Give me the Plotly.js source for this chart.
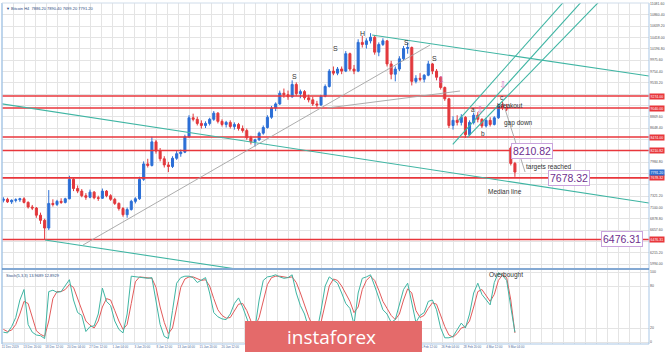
<!DOCTYPE html>
<html><head><meta charset="utf-8">
<script src="https://cdn.plot.ly/plotly-3.0.1.min.js"></script>
<style>html,body{margin:0;padding:0;background:#fff;}#chart{width:665px;height:352px;}</style>
</head><body><div id="chart"></div>
<script>
// ---- data (12-hour aggregated candles) ----
const openP = [7240,7260,7210,7240,7250,7270,7200,7110,7090,6950,6850,6700,7180,7160,7220,7200,7270,7650,7470,7420,7330,7300,7400,7290,7280,7420,7330,7260,7180,7080,6960,7060,7220,7270,7650,7950,7920,8380,8200,8050,7930,7900,8060,8150,8180,8480,8850,8820,8740,8700,8740,8820,8940,8780,8720,8760,8680,8720,8640,8600,8460,8380,8420,8550,8660,8860,9040,9120,9330,9300,9260,9500,9320,9360,9240,9200,9120,9100,9270,9460,9760,9720,9800,9760,10100,9800,9760,10320,10280,10350,10420,10130,10280,10350,9900,9700,9800,10000,10200,10220,9560,9620,9600,9680,9900,9760,9640,9440,9220,8700,8800,8760,8860,8520,8760,8900,8820,8690,8800,8720,8850,9080,9050,8260,7960];
const highP = [7300,7290,7260,7280,7290,7300,7220,7150,7110,7000,6880,7440,7260,7250,7280,7290,7720,7680,7530,7460,7380,7450,7420,7330,7470,7440,7360,7290,7200,7110,7100,7250,7300,7700,8000,8050,8480,8420,8260,8100,7990,8100,8200,8230,8520,8900,8930,8870,8800,8780,8850,8980,8960,8820,8790,8800,8760,8750,8700,8640,8500,8440,8580,8700,8900,9080,9150,9380,9420,9380,9580,9540,9400,9390,9300,9260,9180,9300,9500,9800,9850,9840,9850,10150,10120,9880,10380,10450,10400,10500,10460,10320,10400,10360,9960,9850,10050,10250,10310,10240,9680,9720,9700,9960,9920,9800,9660,9460,9240,8880,8900,8920,8880,8800,8950,8960,8840,8850,8860,8880,9120,9170,9120,8290,7990];
const lowP = [7200,7190,7170,7200,7210,7180,7080,7050,6900,6780,6480,6660,7120,7130,7170,7180,7260,7420,7380,7300,7250,7280,7260,7230,7270,7300,7230,7150,7040,6920,6900,7040,7180,7250,7620,7880,7900,8150,8000,7880,7790,7870,8030,8090,8160,8460,8780,8700,8640,8650,8700,8790,8740,8680,8660,8640,8620,8600,8560,8420,8330,8290,8400,8520,8640,8830,8980,9100,9240,9200,9240,9280,9230,9200,9150,9080,9050,9080,9250,9440,9680,9680,9700,9740,9760,9700,9740,10220,10200,10300,10080,10050,10250,9850,9600,9560,9760,9960,10100,9480,9520,9560,9540,9660,9700,9580,9400,9180,8650,8620,8700,8700,8460,8500,8720,8760,8650,8660,8680,8700,8830,9000,8980,7920,7699];
const closeP = [7260,7210,7240,7250,7270,7200,7110,7090,6950,6850,6700,7180,7160,7220,7200,7270,7650,7470,7420,7330,7300,7400,7290,7280,7420,7330,7260,7180,7080,6960,7060,7220,7270,7650,7950,7920,8380,8200,8050,7930,7900,8060,8150,8180,8480,8850,8820,8740,8700,8740,8820,8940,8780,8720,8760,8680,8720,8640,8600,8460,8380,8420,8550,8660,8860,9040,9120,9330,9300,9260,9500,9320,9360,9240,9200,9120,9100,9270,9460,9760,9720,9800,9760,10100,9800,9760,10320,10280,10350,10420,10130,10280,10350,9900,9700,9800,10000,10200,10220,9560,9620,9600,9680,9900,9760,9640,9440,9220,8700,8800,8760,8860,8520,8760,8900,8820,8690,8800,8720,8850,9080,9050,9020,7960,7791.2];
const stochK = [14,13,22,35,60,75,25,14,10,9,5,72,74,71,72,80,89,60,42,38,15,22,23,40,77,58,52,30,18,13,40,94,93,93,92,91,92,60,25,8,5,45,84,92,94,94,92,85,88,92,70,42,36,33,32,40,55,63,50,35,18,20,60,88,93,94,96,93,91,92,96,70,52,40,20,12,15,45,80,93,88,84,70,55,48,25,70,91,93,96,80,62,46,40,28,32,55,75,84,55,28,38,42,58,60,46,20,6,6,8,18,27,20,40,70,84,68,60,53,85,99,95,88,50,14];
const stochD = [18,15,17,25,40,58,55,35,16,11,8,30,62,72,72,75,82,78,62,45,30,24,20,30,50,62,60,45,30,18,25,55,86,93,92,91,91,78,50,28,12,20,50,78,90,93,93,90,88,89,80,62,46,38,34,35,44,54,55,45,30,22,35,60,82,92,94,94,93,92,93,85,70,52,36,22,15,28,55,80,90,88,80,68,58,42,50,75,88,94,88,74,58,48,38,32,40,60,76,70,45,35,38,48,56,54,38,22,10,7,12,20,22,30,50,72,75,66,58,68,88,96,92,60,13];
const xTickLabels = ["11 Dec 2019","13 Dec 20:00","18 Dec 12:00","20 Dec 04:00","27 Dec 12:00","1 Jan 04:00","3 Jan 20:00","8 Jan 12:00","13 Jan 04:00","15 Jan 20:00","20 Jan 12:00","23 Jan 04:00","27 Jan 20:00","30 Jan 12:00","4 Feb 04:00","6 Feb 20:00","11 Feb 12:00","14 Feb 04:00","18 Feb 20:00","21 Feb 12:00","26 Feb 04:00","28 Feb 20:00","4 Mar 12:00","9 Mar 04:00"];
const yTickValues = [11081.60,10860.40,10639.20,10418.00,10196.80,9975.60,9754.40,9533.20,9312.00,9090.80,8869.60,8648.40,8427.20,8206.00,7984.80,7763.60,7542.40,7321.20,7100.00,6878.80,6657.60,6436.40,6215.20,5994.00];
const levels = [9274.00, 9040.00, 8474.00, 8210.82, 7678.32, 6476.31];
const lastPrice = 7791.20;

// ---- build ----
const xs = closeP.map((_, j) => 3 * j + 1);   // position in H4-bar units
const RED = '#e8363b', TEAL = '#3fb5a3', GRAY = '#a3a3a3';
const tagged = levels.concat([lastPrice]);
const visibleTicks = yTickValues.filter(v => tagged.every(p => Math.abs(p - v) > 150));
// x labels hidden by the logo block (indices 11..18) are left out
const xTickPos = [], xTickTxt = [];
xTickLabels.forEach((t, k) => { if (k < 11 || k > 18) { xTickPos.push(16 * k + 6); xTickTxt.push(t); } });

const traces = [
  {type:'candlestick', x:xs, open:openP, high:highP, low:lowP, close:closeP,
   increasing:{line:{color:'#2c6fd6',width:1}, fillcolor:'#2c6fd6'},
   decreasing:{line:{color:'#e2383c',width:1}, fillcolor:'#e2383c'},
   whiskerwidth:0, hoverinfo:'skip', xaxis:'x', yaxis:'y'},
  {type:'scatter', mode:'lines', x:xs, y:stochD, line:{color:'#e25a5a',width:1}, xaxis:'x', yaxis:'y2', hoverinfo:'skip'},
  {type:'scatter', mode:'lines', x:xs, y:stochK, line:{color:'#3fb5a3',width:1}, xaxis:'x', yaxis:'y2', hoverinfo:'skip'}
];

const shapes = [];
levels.forEach(p => shapes.push({type:'line', xref:'paper', x0:0, x1:1, yref:'y', y0:p, y1:p, line:{color:RED, width:1.6}}));
function seg(x0,y0,x1,y1,color,w){ shapes.push({type:'line', xref:'x', yref:'y', x0, y0, x1, y1, line:{color, width:w}}); }
seg(-2, 9130, 470.5, 7188, TEAL, 1.1);       // median line
seg(31.3, 6466, 240, 5617, TEAL, 1.1);        // lower parallel
seg(269.1, 10464, 470.5, 9664, TEAL, 1.1);    // upper parallel
seg(331.9, 8801, 411.6, 11205, TEAL, 1.1);    // rising channel
seg(327.8, 8333, 424.5, 11205, TEAL, 1.1);
seg(338.4, 8469, 437.5, 11205, TEAL, 1.1);
seg(58.9, 6369, 311.3, 10269, GRAY, 0.9);     // trend line
seg(236.4, 9040, 333.1, 9372, GRAY, 0.9);     // neckline
seg(364.4, 9138, 380.4, 7792, GRAY, 0.9);     // projection
// frame
shapes.push({type:'line', xref:'paper', yref:'paper', x0:0, x1:0, y0:0, y1:1, line:{color:'#a9c7e6', width:1.5}});
shapes.push({type:'line', xref:'paper', yref:'paper', x0:1, x1:1, y0:0, y1:1, line:{color:'#a9c7e6', width:1}});
shapes.push({type:'line', xref:'paper', yref:'paper', x0:0, x1:1, y0:0.2199, y1:0.2199, line:{color:'#5b8cc4', width:1.5}});
shapes.push({type:'line', xref:'paper', yref:'paper', x0:0, x1:1, y0:0, y1:0, line:{color:'#a9c7e6', width:1}});
shapes.push({type:'line', xref:'paper', yref:'paper', x0:0, x1:1, y0:1, y1:1, line:{color:'#cfdcea', width:1}});
// logo block
shapes.push({type:'rect', xref:'paper', yref:'paper', x0:0.3756, x1:0.6491, y0:-0.03, y1:0.0674, fillcolor:'#e46a6a', line:{width:0}, layer:'above'});

const annotations = [];
function txt(x,y,text,size,color,extra){ annotations.push(Object.assign({x, y, xref:'x', yref:'y', text, showarrow:false, font:{size, color, family:'Liberation Sans, Arial'}}, extra||{})); }
txt(212.4, 9664, 'S', 7, '#333');
txt(242.2, 10210, 'S', 7, '#333');
txt(262.5, 10503, 'H', 7, '#333');
txt(293.8, 10327, 'S', 7, '#333');
txt(314.2, 10015, 'S', 7, '#333');
txt(342.5, 9021, 'a', 6.5, '#333');
txt(349.8, 8553, 'b', 6.5, '#333');
txt(363.6, 9245, 'c', 6.5, '#333', {borderpad:0});
txt(369.0, 9099, 'breakout', 6.5, '#333');
txt(375.6, 8747, 'gap down', 6.5, '#333');
txt(397.8, 7890, 'targets reached', 6.5, '#333');
txt(365.8, 7422, 'Median line', 6.5, '#333');
annotations.push({x:366.2, y:95.7, xref:'x', yref:'y2', text:'Overbought', showarrow:false, font:{size:6.5, color:'#333', family:'Liberation Sans, Arial'}});
[[319.3,9606],[347.6,9021],[364.4,9500]].forEach(a => txt(a[0], a[1], '⇩', 9.5, '#d77ac4', {borderpad:0, font:{size:9.5,color:'#d77ac4',family:'DejaVu Sans'}}));
function box(x,y,text){ txt(x,y,text,10.5,'#6e2f8e',{bgcolor:'#ffffff', bordercolor:'#c9a3dc', borderwidth:1, borderpad:1}); }
box(385.5, 8210.82, '8210.82');
box(412.4, 7678.32, '7678.32');
box(450.9, 6476.31, '6476.31');
// price tags
levels.forEach(p => annotations.push({xref:'paper', x:1, xanchor:'left', yref:'y', y:p, text:p.toFixed(2), showarrow:false, bgcolor:RED, font:{size:3.5, color:'#fff'}, borderpad:0.5}));
annotations.push({xref:'paper', x:1, xanchor:'left', yref:'y', y:lastPrice, text:lastPrice.toFixed(2), showarrow:false, bgcolor:'#2f6fd0', font:{size:3.5, color:'#fff'}, borderpad:0.5});
// headers
annotations.push({xref:'paper', yref:'paper', x:0.003, y:0.998, xanchor:'left', yanchor:'top', text:'▼ Bitcoin H4  7886.20 7890.40 7699.20 7791.20', showarrow:false, font:{size:4, color:'#2a4a80'}});
annotations.push({xref:'paper', yref:'paper', x:0.003, y:0.214, xanchor:'left', yanchor:'top', text:'Stoch(5,3,3) 13.9689 12.8929', showarrow:false, font:{size:4, color:'#2a4a80'}});
annotations.push({xref:'paper', yref:'paper', x:0.510, y:0.020, xanchor:'center', yanchor:'middle', text:'instaforex', showarrow:false, font:{size:19, color:'#ffffff', family:'Open Sans, Lato, sans-serif'}});

const layout = {
  width:665, height:352,
  margin:{l:2, r:16, t:3, b:8, pad:0},
  paper_bgcolor:'#ffffff', plot_bgcolor:'#ffffff', showlegend:false,
  font:{family:'Liberation Sans, Arial', size:4, color:'#444'},
  xaxis:{anchor:'y2', range:[0,470.5], showgrid:false, zeroline:false, showline:false,
         tickvals:xTickPos, ticktext:xTickTxt, ticks:'',
         tickfont:{size:3, color:'#4b6b9b', family:'Liberation Sans Narrow, Liberation Sans'},
         minor:{tick0:0, dtick:8, showgrid:true, gridcolor:'#e4e4e4', gridwidth:1},
         rangeslider:{visible:false}, fixedrange:true},
  yaxis:{domain:[0.2229,1], range:[5920.6,11088.1], side:'right', tickvals:visibleTicks,
         ticktext:visibleTicks.map(v=>v.toFixed(2)), ticks:'', showgrid:false,
         minor:{tickvals:yTickValues, showgrid:true, gridcolor:'#e4e4e4', gridwidth:1},
         zeroline:false, showline:false, tickfont:{size:3.5, color:'#555'}, fixedrange:true},
  yaxis2:{domain:[0,0.217], range:[-2.86,102.86], side:'right', tickvals:[0,20,80,100], ticktext:['0','20','80','100'],
          ticks:'', showgrid:true, gridcolor:'#e4e4e4', zeroline:false, showline:false,
          tickfont:{size:3.5, color:'#555'}, fixedrange:true},
  shapes, annotations
};
Plotly.newPlot('chart', traces, layout, {staticPlot:true, displayModeBar:false});
</script></body></html>
